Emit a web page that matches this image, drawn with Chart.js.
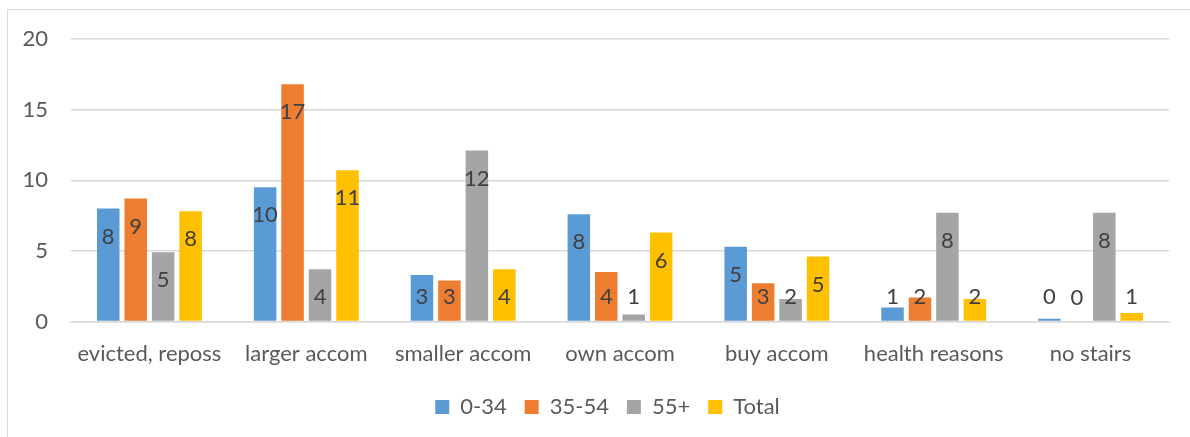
<!DOCTYPE html>
<html>
<head>
<meta charset="utf-8">
<script src="https://cdn.jsdelivr.net/npm/chart.js@4/dist/chart.umd.min.js"></script>
<style>
  html, body { margin: 0; padding: 0; background: #fff; }
  #wrap { position: relative; width: 1190px; height: 437px; overflow: hidden; }
  #frame { position: absolute; left: 7px; top: 9px; width: 1300px; height: 500px; border-left: 1px solid #d9d9d9; border-top: 1px solid #d9d9d9; }
  #myChart { position: absolute; left: 0; top: 0; }
</style>
</head>
<body>
<div id="wrap">
  <div id="frame"></div>
  <canvas id="myChart" width="1190" height="437"></canvas>
</div>
<script>
// categories and series
const categories = ['evicted, reposs', 'larger accom', 'smaller accom', 'own accom', 'buy accom', 'health reasons', 'no stairs']
const age0to34 = [8.0, 9.5, 3.3, 7.6, 5.3, 1.0, 0.2]
const age35to54 = [8.7, 16.8, 2.9, 3.5, 2.7, 1.7, 0]
const age55plus = [4.9, 3.7, 12.1, 0.5, 1.6, 7.7, 7.7]
const total = [7.8, 10.7, 3.7, 6.3, 4.6, 1.6, 0.6]
const yTicks = [0, 5, 10, 15, 20]

const font = 'Lato, "Open Sans", sans-serif'

// labels at the inside end of each bar, like excel does
const barLabels = {
  id: 'barLabels',
  afterDatasetsDraw (chart) {
    const ctx = chart.ctx
    ctx.save()
    ctx.font = '22px ' + font
    ctx.fillStyle = '#404040'
    ctx.textAlign = 'center'
    ctx.textBaseline = 'middle'
    chart.data.datasets.forEach((ds, i) => {
      chart.getDatasetMeta(i).data.forEach((bar, j) => {
        const y = Math.min(bar.y + 28, bar.base - 24)
        ctx.fillText(Math.round(ds.data[j]), bar.x, y)
      })
    })
    ctx.restore()
  }
}

// legend sits under the plot area in excel, not the whole canvas
const legendShift = {
  id: 'legendShift',
  afterUpdate (chart) {
    chart.legend.left += 23
    chart.legend.right += 23
  }
}

const ctx = document.getElementById('myChart')
const myChart = new Chart(ctx, {
  type: 'bar',
  data: {
    labels: categories,
    datasets: [
      { label: '0-34', data: age0to34, backgroundColor: '#5B9BD5' },
      { label: '35-54', data: age35to54, backgroundColor: '#ED7D31' },
      { label: '55+', data: age55plus, backgroundColor: '#A5A5A5' },
      { label: 'Total', data: total, backgroundColor: '#FFC000' }
    ]
  },
  options: {
    responsive: false,
    animation: false,
    categoryPercentage: 0.7,
    barPercentage: 0.82,
    layout: { padding: { top: 39, right: 21, left: 0, bottom: 9 } },
    scales: {
      x: {
        grid: { display: false, drawTicks: false },
        border: { color: '#d9d9d9', width: 1.5 },
        ticks: { color: '#595959', font: { family: font, size: 22 }, padding: 19, maxRotation: 0 },
        afterFit: scale => { scale.height = 56.5 }
      },
      y: {
        min: 0,
        max: 20,
        grid: { color: '#d9d9d9', lineWidth: 1.5, drawTicks: false },
        border: { display: false },
        ticks: {
          stepSize: 5,
          color: '#595959',
          font: { family: font, size: 22 },
          padding: 23,
          callback: v => yTicks.includes(v) ? v : ''
        },
        afterFit: scale => { scale.width = 71 }
      }
    },
    plugins: {
      legend: {
        position: 'bottom',
        labels: {
          color: '#595959',
          font: { family: font, size: 22 },
          boxWidth: 14,
          boxHeight: 14,
          padding: 18
        }
      },
      tooltip: { enabled: false }
    }
  },
  plugins: [barLabels, legendShift]
})
</script>
</body>
</html>
